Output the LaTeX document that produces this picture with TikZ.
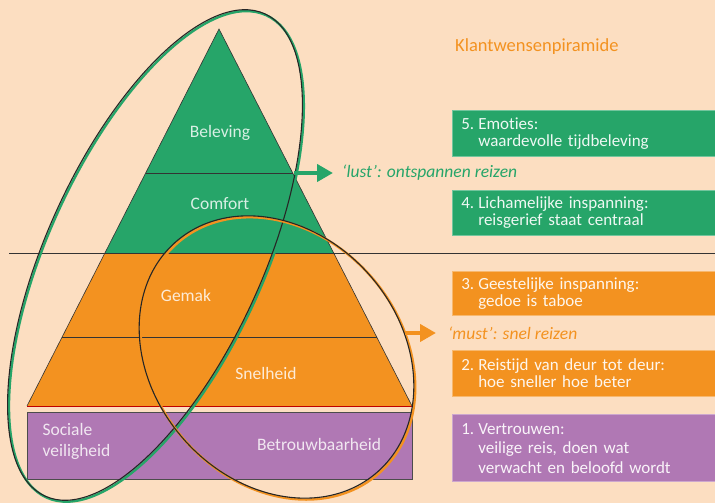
\documentclass[tikz,border=0pt]{standalone}
\usepackage{fontspec}
\setmainfont{Carlito}[Ligatures=NoCommon]
\usetikzlibrary{arrows.meta,positioning,calc}
\definecolor{peach}{RGB}{252,222,193}
\definecolor{grn}{RGB}{38,165,105}
\definecolor{org}{RGB}{243,146,32}
\definecolor{prp}{RGB}{176,120,180}
\tikzset{
  >={Triangle[length=16pt,width=17pt]},
  wish/.style={anchor=north west,fill=#1,draw=white!35!#1,line width=0.6pt,text width=246pt,inner xsep=9pt,inner ysep=0pt,align=left,text=white!92!#1,font=\fontsize{17}{17}\selectfont},
  layer/.style={text=white!82!#1,align=left,font=\fontsize{17.5}{21}\selectfont},
  arrow/.style={->,line width=4.5pt},
  edge/.style={black!80,line width=0.6pt},
}
\newcommand\wishno[2]{\makebox[17pt][l]{#1}#2}
\newcommand\wishin{\hspace*{17pt}}

\begin{document}
\begin{tikzpicture}[x=1pt,y=1pt]
			\fill[peach] (0,0) rectangle (715,503);
			\useasboundingbox (0,0) rectangle (715,503);
			\clip (0,0) rectangle (715,503);
			\coordinate (top) at (219,474);
			\coordinate (bl) at (27,97);
			\coordinate (br) at (412,97);
			\fill[grn] (top) -- ($(top)!0.597!(bl)$) -- ($(top)!0.597!(br)$) -- cycle;
			\fill[org] ($(top)!0.597!(bl)$) -- (bl) -- (br) -- ($(top)!0.597!(br)$) -- cycle;
			\draw[edge] ($(top)!0.382!(bl)$) -- ($(top)!0.382!(br)$);
			\draw[edge] ($(top)!0.817!(bl)$) -- ($(top)!0.817!(br)$);
			\draw[edge] (bl) -- (top) -- (br);
			\draw[red!75!black,line width=0.6pt] (bl) -- (br);
			\filldraw[fill=prp,draw=black!70,line width=0.7pt] (27,24) rectangle (412,91);
			\draw[edge] (9,249.5) -- (715,249.5);
			\node[layer=grn] (bel) at (220,370) {Beleving};
			\node[layer=grn] (com) at (220,299) {Comfort};
			\node[layer=org] (gem) at (186,208) {Gemak};
			\node[layer=org] (sne) at (266,130) {Snelheid};
			\node[layer=prp,anchor=west] (soc) at (39,62) {Sociale\\veiligheid};
			\node[layer=prp] (bet) at (319,59) {Betrouwbaarheid};
			\draw[grn,line width=2.4pt,rotate around={65.5:(156.4,246.6)}] (156.4,246.6) ellipse [x radius=265, y radius=108];
			\draw[black!85,line width=1.1pt,rotate around={65.5:(155,248)}] (155,248) ellipse [x radius=265, y radius=108];
			\draw[org,line width=2.4pt,rotate around={-48.8:(277.9,144.6)}] (277.9,144.6) ellipse [x radius=153, y radius=124];
			\draw[black!85,line width=1.1pt,rotate around={-48.8:(276.5,146)}] (276.5,146) ellipse [x radius=153, y radius=124];
			\coordinate (lustfrom) at (294,330);
			\coordinate (mustfrom) at (405,170);
			\node[anchor=west,inner sep=0pt,text=grn,font=\fontsize{17.5}{18}\selectfont\itshape] (lust) at (342,330) {‘lust’: ontspannen reizen};
			\node[anchor=west,inner sep=0pt,text=org,font=\fontsize{17.5}{18}\selectfont\itshape] (must) at (448,170) {‘must’: snel reizen};
			\draw[arrow,grn,shorten >=9pt] (lustfrom) -- (lust.west);
			\draw[arrow,org,shorten >=12pt] (mustfrom) -- (must.west);
			\node[anchor=west,inner sep=0pt,text=org,font=\fontsize{18.5}{19}\selectfont] (title) at (455,456) {Klantwensenpiramide};
			\node[wish=grn,minimum height=46pt] (emo) at (452,393) {\wishno{5.}{Emoties:}\\\wishin waardevolle tijdbeleving};
			\node[wish=grn,minimum height=45pt,below=33pt of emo] (lich) {\wishno{4.}{Lichamelijke inspanning:}\\\wishin reisgerief staat centraal};
			\node[wish=org,minimum height=44pt,below=36pt of lich] (gees) {\wishno{3.}{Geestelijke inspanning:}\\\wishin gedoe is taboe};
			\node[wish=org,minimum height=46pt,below=34pt of gees] (reis) {\wishno{2.}{Reistijd van deur tot deur:}\\\wishin hoe sneller hoe beter};
			\node[wish=prp,minimum height=67pt,below=18pt of reis,font=\fontsize{17}{19.5}\selectfont] (vert) {\wishno{1.}{Vertrouwen:}\\\wishin veilige reis, doen wat\\\wishin verwacht en beloofd wordt};
		\end{tikzpicture}
\end{document}
